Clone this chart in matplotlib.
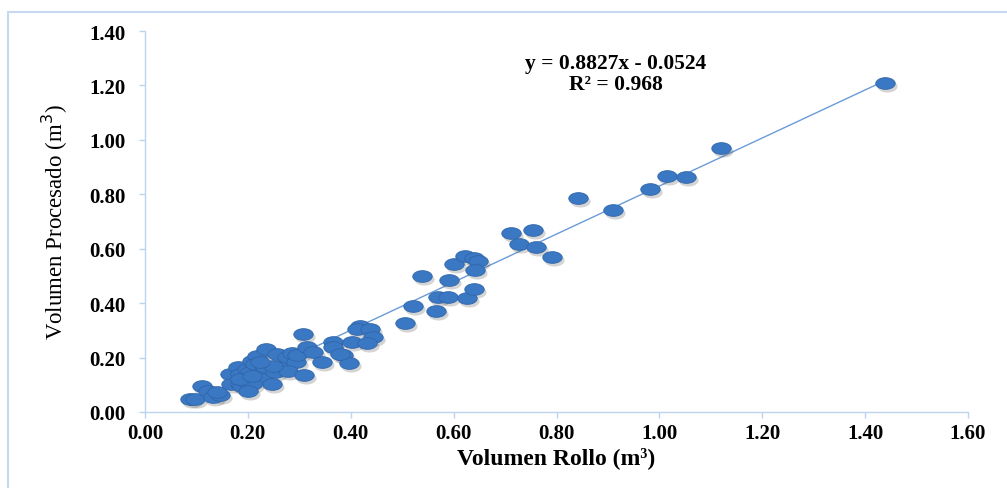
import numpy as np
import matplotlib
matplotlib.use("Agg")
import matplotlib.pyplot as plt
from matplotlib.path import Path
from matplotlib.patches import Rectangle

# Data (m3)
vol_rollo = [
    0.087, 0.097, 0.111, 0.122, 0.132, 0.146, 0.140, 0.165, 0.167, 0.181,
    0.185, 0.185, 0.189, 0.198, 0.198, 0.204, 0.208, 0.218, 0.214, 0.224,
    0.229, 0.208, 0.233, 0.235, 0.247, 0.253, 0.257, 0.268, 0.276, 0.286,
    0.294, 0.295, 0.278, 0.249, 0.224, 0.200, 0.185, 0.208,
    0.307, 0.309, 0.315, 0.327, 0.344, 0.365, 0.365, 0.385, 0.397, 0.402,
    0.418, 0.412, 0.437, 0.443, 0.432, 0.379,
    0.505, 0.521, 0.566, 0.570, 0.589, 0.626, 0.640, 0.538, 0.591, 0.601,
    0.622, 0.640, 0.647, 0.642, 0.711, 0.754, 0.727, 0.760, 0.791, 0.842,
    0.910, 0.982, 1.015, 1.052, 1.120, 1.439,
]
vol_procesado = [
    0.048, 0.048, 0.096, 0.077, 0.055, 0.062, 0.074, 0.140, 0.103, 0.165,
    0.140, 0.103, 0.096, 0.110, 0.158, 0.147, 0.187, 0.206, 0.176, 0.140,
    0.121, 0.103, 0.165, 0.232, 0.103, 0.147, 0.213, 0.169, 0.202, 0.217,
    0.184, 0.209, 0.151, 0.169, 0.184, 0.077, 0.121, 0.132,
    0.287, 0.136, 0.239, 0.220, 0.184, 0.257, 0.239, 0.209, 0.180, 0.257,
    0.316, 0.305, 0.305, 0.276, 0.254, 0.213,
    0.327, 0.390, 0.371, 0.423, 0.423, 0.419, 0.452, 0.500, 0.485, 0.544,
    0.573, 0.566, 0.555, 0.522, 0.658, 0.669, 0.617, 0.606, 0.570, 0.786,
    0.742, 0.820, 0.867, 0.864, 0.970, 1.209,
]
slope = 0.8827
intercept = -0.0524
r2 = 0.968
x_ticks = [0.00, 0.20, 0.40, 0.60, 0.80, 1.00, 1.20, 1.40, 1.60]
y_ticks = [0.00, 0.20, 0.40, 0.60, 0.80, 1.00, 1.20, 1.40]

plt.rcParams['font.family'] = ['Liberation Serif', 'DejaVu Serif']

W, H = 1007, 489
fig = plt.figure(figsize=(W / 100, H / 100), dpi=100)
fig.patch.set_facecolor('white')

# outer chart border (light blue)
border = Rectangle((8 / W, -0.2), 1.5, (H - 13) / H + 0.2, transform=fig.transFigure,
                   fill=False, edgecolor='#c6d9f0', linewidth=1.5, zorder=0)
fig.patches.append(border)

ax = fig.add_axes([145 / W, (H - 413) / H, (968 - 145) / W, (413 - 32) / H])
ax.set_xlim(0, 1.6)
ax.set_ylim(0, 1.4)

# elliptical marker (wider than tall)
t = np.linspace(0, 2 * np.pi, 60)
ell = Path(np.column_stack([np.cos(t), 0.6 * np.sin(t)]), closed=True)

xs = np.array(vol_rollo)
ys = np.array(vol_procesado)

# trendline
xl = np.array([xs.min(), xs.max()])
ax.plot(xl, slope * xl + intercept, color='#6a9bd8', linewidth=1.0, zorder=2)

# shadow
ax.scatter(xs, ys, s=14.5 ** 2, marker=ell, color='#555555', alpha=0.25,
           linewidths=0, zorder=3,
           transform=ax.transData + matplotlib.transforms.ScaledTranslation(1.5 / 72, -2.0 / 72, fig.dpi_scale_trans))
ax.scatter(xs, ys, s=14 ** 2, marker=ell, facecolor='#3b78c4', edgecolor='#2f65a8',
           linewidths=0.6, zorder=4)

for side in ['top', 'right']:
    ax.spines[side].set_visible(False)
for side in ['left', 'bottom']:
    ax.spines[side].set_color('#bcd4ee')
    ax.spines[side].set_linewidth(1.0)

ax.set_xticks(x_ticks)
ax.set_yticks(y_ticks)
ax.set_xticklabels([f"{v:.2f}" for v in x_ticks])
ax.set_yticklabels([f"{v:.2f}" for v in y_ticks])
ax.tick_params(axis='both', direction='out', length=4, width=1.0, color='#bcd4ee',
               labelsize=15)
for lab in ax.get_xticklabels() + ax.get_yticklabels():
    lab.set_fontweight('bold')
ax.tick_params(axis='x', pad=4)
ax.tick_params(axis='y', pad=10)

ax.set_xlabel('Volumen Rollo (m³)', fontsize=17, fontweight='bold', labelpad=2)
ax.set_ylabel('Volumen Procesado (m$^{3}$)', fontsize=16.5, labelpad=14)

ax.text(0.915, 1.284, 'y = 0.8827x - 0.0524', ha='center', va='center',
        fontsize=15.5, fontweight='bold')
ax.text(0.915, 1.206, 'R² = 0.968', ha='center', va='center',
        fontsize=15.5, fontweight='bold')

fig.savefig('out.png', dpi=100)
